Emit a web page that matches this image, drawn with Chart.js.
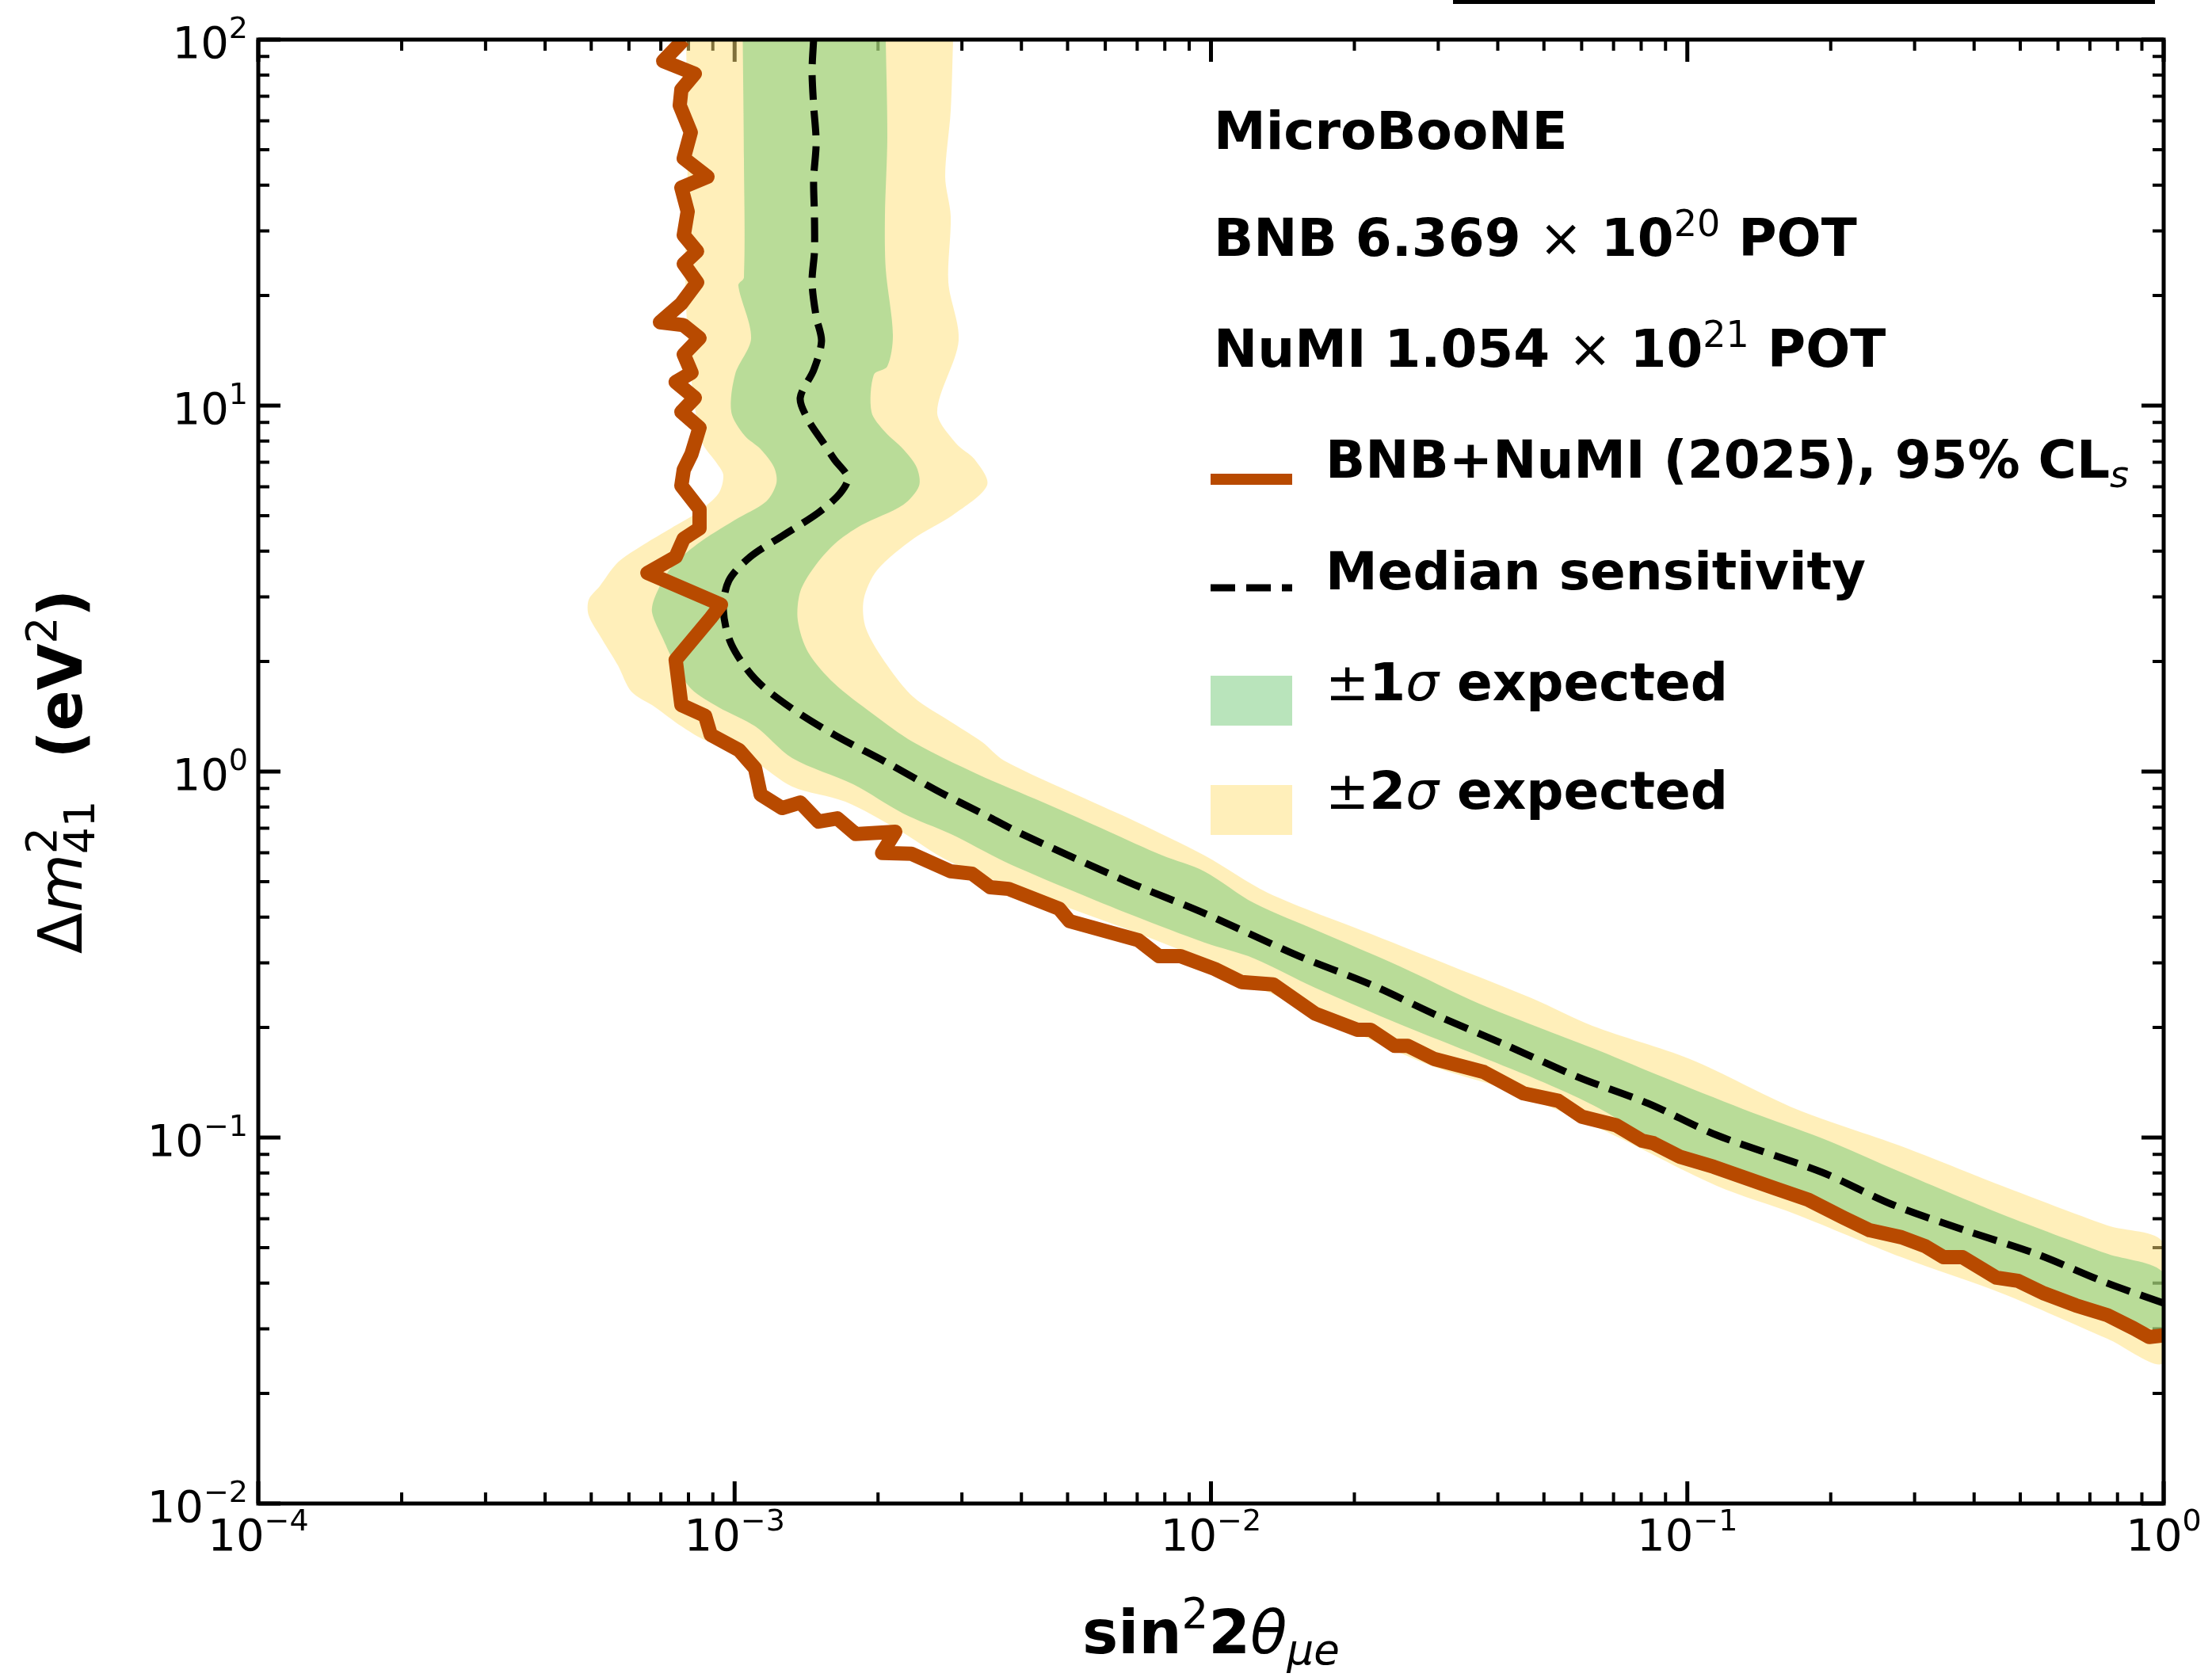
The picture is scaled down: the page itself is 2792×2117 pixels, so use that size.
<!DOCTYPE html>
<html>
<head>
<meta charset="utf-8">
<title>MicroBooNE BNB+NuMI sterile exclusion</title>
<script src="https://cdn.jsdelivr.net/npm/chart.js@4.4.1/dist/chart.umd.min.js"></script>
<style>
  html, body { margin: 0; padding: 0; background: #fff; }
  #wrap { width: 2792px; height: 2117px; }
</style>
</head>
<body>
<div id="wrap"><canvas id="chart" width="2792" height="2117"></canvas></div>
<script>
// === DATA, points are [sin^2 2theta, dm^2 in eV^2]
const xTickValues = [1e-4, 1e-3, 1e-2, 1e-1, 1];
const xTickLabels = [['10', '−4'], ['10', '−3'], ['10', '−2'], ['10', '−1'], ['10', '0']];
const yTickValues = [1e-2, 1e-1, 1, 10, 100];
const yTickLabels = [['10', '−2'], ['10', '−1'], ['10', '0'], ['10', '1'], ['10', '2']];

const observed = [
  [7.82e-4, 100], [7.08e-4, 87.4], [8.25e-4, 80.7], [7.73e-4, 73.0], [7.67e-4, 66.1], [8.09e-4, 55.8],
  [7.82e-4, 47.4], [8.77e-4, 42.2], [7.73e-4, 39.4], [7.97e-4, 33.9], [7.82e-4, 29.2], [8.34e-4, 26.4],
  [7.82e-4, 24.4], [8.34e-4, 21.7], [7.73e-4, 19.0], [6.97e-4, 16.9], [7.80e-4, 16.6], [8.44e-4, 15.3],
  [7.82e-4, 13.8], [8.12e-4, 12.3], [7.52e-4, 11.6], [8.25e-4, 10.5], [7.73e-4, 9.61], [8.44e-4, 8.70],
  [8.12e-4, 7.38], [7.82e-4, 6.68], [7.73e-4, 6.04], [8.44e-4, 5.21], [8.44e-4, 4.62], [7.82e-4, 4.33],
  [7.52e-4, 3.86], [6.56e-4, 3.49], [9.36e-4, 2.86], [8.91e-4, 2.63], [7.52e-4, 2.02], [7.73e-4, 1.52],
  [8.67e-4, 1.42], [8.91e-4, 1.26], [1.022e-3, 1.144], [1.104e-3, 1.02], [1.134e-3, 0.865], [1.258e-3, 0.795],
  [1.373e-3, 0.823], [1.50e-3, 0.730], [1.643e-3, 0.745], [1.795e-3, 0.675], [2.174e-3, 0.685], [2.04e-3, 0.599],
  [2.35e-3, 0.596], [2.84e-3, 0.534], [3.15e-3, 0.526], [3.44e-3, 0.483], [3.76e-3, 0.478], [4.80e-3, 0.422],
  [5.05e-3, 0.390], [7.04e-3, 0.346], [7.78e-3, 0.313], [8.63e-3, 0.313], [1.018e-2, 0.289], [1.159e-2, 0.266],
  [1.351e-2, 0.262], [1.655e-2, 0.218], [2.027e-2, 0.197], [2.163e-2, 0.197], [2.43e-2, 0.178], [2.59e-2, 0.178],
  [2.94e-2, 0.164], [3.74e-2, 0.151], [4.53e-2, 0.132], [5.36e-2, 0.126], [6.01e-2, 0.114], [7.09e-2, 0.108],
  [8.04e-2, 0.098], [8.49e-2, 0.0965], [9.63e-2, 0.0887], [0.1136, 0.0832], [0.1526, 0.0727], [0.1799, 0.0675],
  [0.2129, 0.0604], [0.2415, 0.0558], [0.2815, 0.0534], [0.3158, 0.0505], [0.345, 0.0471], [0.378, 0.0471],
  [0.4457, 0.0414], [0.4943, 0.0406], [0.561, 0.0375], [0.6535, 0.0348], [0.762, 0.0327], [0.865, 0.0301],
  [0.933, 0.0285], [1.0, 0.0288]
];

const median = [
  [1.465e-3, 100], [1.454e-3, 81.9], [1.465e-3, 66.1], [1.483e-3, 52.3], [1.465e-3, 41.4], [1.471e-3, 32.9],
  [1.471e-3, 26.4], [1.454e-3, 21.7], [1.483e-3, 17.5], [1.522e-3, 15.0], [1.465e-3, 12.5], [1.373e-3, 10.5],
  [1.427e-3, 9.14], [1.540e-3, 7.87], [1.619e-3, 7.13], [1.728e-3, 6.35], [1.663e-3, 5.75], [1.50e-3, 5.10],
  [1.258e-3, 4.40], [1.078e-3, 3.86], [9.72e-4, 3.32], [9.47e-4, 2.76], [9.84e-4, 2.23], [1.104e-3, 1.79],
  [1.306e-3, 1.50], [1.619e-3, 1.26], [2.092e-3, 1.056], [2.70e-3, 0.878], [3.31e-3, 0.768], [4.01e-3, 0.675],
  [6.68e-3, 0.500], [9.68e-3, 0.410], [1.532e-2, 0.313], [2.163e-2, 0.262], [3.02e-2, 0.214], [4.20e-2, 0.178],
  [5.92e-2, 0.146], [8.27e-2, 0.124], [0.1153, 0.1015], [0.192, 0.0803], [0.2678, 0.0658], [0.3824, 0.0558],
  [0.540, 0.0481], [0.762, 0.0400], [1.0, 0.0353]
];

// +-1 sigma band: left/lower edge and right/upper edge
const sigma1Lower = [
  [1.04e-3, 100], [1.046e-3, 47.3], [1.046e-3, 22.4], [1.018e-3, 21.3], [1.083e-3, 15.3], [1.003e-3, 12.2],
  [9.84e-4, 9.61], [1.05e-3, 8.27], [1.134e-3, 7.60], [1.21e-3, 6.78], [1.224e-3, 6.14], [1.165e-3, 5.47],
  [9.99e-4, 4.86], [8.34e-4, 4.18], [7.35e-4, 3.60], [6.81e-4, 3.01], [6.71e-4, 2.72], [7.08e-4, 2.30],
  [7.52e-4, 1.95], [8.12e-4, 1.68], [9.25e-4, 1.50], [1.104e-3, 1.33], [1.321e-3, 1.089], [1.774e-3, 0.923],
  [2.259e-3, 0.768], [2.842e-3, 0.675], [3.674e-3, 0.569], [5.048e-3, 0.476], [6.94e-3, 0.402], [9.68e-3, 0.341],
  [1.232e-2, 0.3085], [1.655e-2, 0.2565], [2.493e-2, 0.204], [3.656e-2, 0.1671], [5.024e-2, 0.141], [6.57e-2, 0.1197],
  [8.92e-2, 0.0947], [0.1308, 0.0776], [0.1919, 0.0658], [0.2815, 0.0539], [0.3639, 0.0481], [0.4578, 0.0426],
  [0.762, 0.0332], [1.0, 0.0301]
];
const sigma1Upper = [
  [2.076e-3, 100], [2.092e-3, 54.2], [2.068e-3, 32.9], [2.076e-3, 23.6], [2.149e-3, 15.6], [2.092e-3, 12.8],
  [1.96e-3, 12.15], [1.938e-3, 9.61], [2.068e-3, 8.48], [2.259e-3, 7.60], [2.411e-3, 6.78], [2.439e-3, 6.04],
  [2.259e-3, 5.36], [1.844e-3, 4.71], [1.619e-3, 4.18], [1.465e-3, 3.60], [1.373e-3, 3.10], [1.357e-3, 2.59],
  [1.426e-3, 2.12], [1.619e-3, 1.74], [1.938e-3, 1.446], [2.374e-3, 1.202], [3.226e-3, 0.985], [4.448e-3, 0.823],
  [6.114e-3, 0.685], [7.90e-3, 0.590], [9.68e-3, 0.534], [1.232e-2, 0.437], [1.70e-2, 0.364], [2.493e-2, 0.2935],
  [3.656e-2, 0.2322], [5.024e-2, 0.197], [6.57e-2, 0.1722], [8.92e-2, 0.146], [0.1308, 0.1197], [0.1919, 0.0995],
  [0.2815, 0.0803], [0.4578, 0.0617], [0.762, 0.0481], [1.0, 0.0426]
];

// +-2 sigma band
const sigma2Lower = [
  [7.91e-4, 100], [7.97e-4, 47.3], [7.88e-4, 22.4], [8.03e-4, 13.6], [8.28e-4, 9.61], [8.57e-4, 7.87],
  [9.18e-4, 6.95], [9.47e-4, 6.45], [9.25e-4, 5.75], [8.34e-4, 5.10], [7.35e-4, 4.62], [6.46e-4, 4.18],
  [5.69e-4, 3.73], [5.21e-4, 3.21], [4.94e-4, 2.95], [4.94e-4, 2.67], [5.27e-4, 2.30], [5.69e-4, 1.95],
  [6.07e-4, 1.654], [6.81e-4, 1.50], [7.73e-4, 1.33], [8.57e-4, 1.227], [1.104e-3, 1.062], [1.321e-3, 0.910],
  [1.708e-3, 0.827], [2.199e-3, 0.695], [2.842e-3, 0.566], [4.73e-3, 0.437], [6.94e-3, 0.3636], [9.68e-3, 0.3054],
  [1.315e-2, 0.2502], [2.829e-2, 0.159], [4.15e-2, 0.1355], [6.57e-2, 0.1056], [0.1153, 0.0738], [0.1691, 0.0617],
  [0.2815, 0.0471], [0.4578, 0.0375], [0.762, 0.0282], [1.0, 0.0243]
];
const sigma2Upper = [
  [2.875e-3, 100], [2.842e-3, 63.9], [2.767e-3, 42.2], [2.842e-3, 32.9], [2.81e-3, 21.7], [2.953e-3, 15.05],
  [2.662e-3, 9.61], [2.919e-3, 7.87], [3.189e-3, 7.13], [3.39e-3, 6.07], [2.875e-3, 5.03], [2.374e-3, 4.33],
  [1.991e-3, 3.55], [1.866e-3, 2.95], [1.887e-3, 2.46], [2.092e-3, 1.95], [2.374e-3, 1.597], [2.875e-3, 1.355],
  [3.313e-3, 1.202], [3.674e-3, 1.072], [5.39e-3, 0.848], [6.94e-3, 0.7305], [9.68e-3, 0.590], [1.315e-2, 0.4666],
  [2.188e-2, 0.3582], [3.21e-2, 0.2935], [4.71e-2, 0.2404], [6.32e-2, 0.2019], [0.1013, 0.1638], [0.1691, 0.1197],
  [0.2815, 0.0947], [0.4578, 0.0738], [0.762, 0.0575], [1.0, 0.0513]
];

// === STYLE
const FONT = '"DejaVu Sans"';
const RED = '#B84A00';
const GREEN = 'rgba(115,201,119,0.5)';
const YELLOW = 'rgba(255,223,117,0.5)';

const qs = sel => document.querySelector(sel);
const toPts = arr => arr.map(([x, y]) => ({ x, y }));
// closed polygon: lower edge out, upper edge back
const bandShape = (lo, hi) => toPts(lo.concat(hi.slice().reverse()));

// draw a run of text pieces with different fonts / offsets (super & subscripts)
function drawRich(ctx, parts, x, y, align) {
  let w = 0;
  parts.forEach(p => { ctx.font = p.f; if (p.adv !== false) w += ctx.measureText(p.t).width; });
  let cx = x;
  if (align === 'center') cx = x - w / 2;
  else if (align === 'right') cx = x - w;
  parts.forEach(p => {
    ctx.font = p.f;
    ctx.fillText(p.t, cx, y + (p.dy || 0));
    if (p.adv !== false) cx += ctx.measureText(p.t).width;
  });
}

// every 1..9 x 10^e value inside [lo, hi]
function logTickValues(lo, hi) {
  const out = [];
  for (let e = Math.round(Math.log10(lo)); e < Math.round(Math.log10(hi)); e++) {
    for (let m = 1; m <= 9; m++) out.push({ v: m * Math.pow(10, e), major: m === 1 });
  }
  out.push({ v: hi, major: true });
  return out;
}

const tickParts = ([base, exp]) => [
  { t: base, f: `56px ${FONT}` },
  { t: exp, f: `38px ${FONT}`, dy: -25 }
];

// ====== inward ticks, tick labels, frame, legend and titles
const decor = {
  id: 'decor',
  beforeDatasetsDraw(chart) {
    const { ctx, chartArea: a, scales: { x, y } } = chart;
    ctx.save();
    ctx.strokeStyle = '#000';
    logTickValues(x.min, x.max).forEach(t => {
      const px = x.getPixelForValue(t.v);
      const len = t.major ? 28 : 14;
      ctx.lineWidth = t.major ? 5 : 4;
      ctx.beginPath();
      ctx.moveTo(px, a.bottom); ctx.lineTo(px, a.bottom - len);
      ctx.moveTo(px, a.top); ctx.lineTo(px, a.top + len);
      ctx.stroke();
    });
    logTickValues(y.min, y.max).forEach(t => {
      const py = y.getPixelForValue(t.v);
      const len = t.major ? 28 : 14;
      ctx.lineWidth = t.major ? 5 : 4;
      ctx.beginPath();
      ctx.moveTo(a.left, py); ctx.lineTo(a.left + len, py);
      ctx.moveTo(a.right, py); ctx.lineTo(a.right - len, py);
      ctx.stroke();
    });
    ctx.restore();
  },
  afterDatasetsDraw(chart) {
    const { ctx, chartArea: a } = chart;
    ctx.save();
    ctx.strokeStyle = '#000';
    ctx.lineWidth = 5;
    ctx.strokeRect(a.left, a.top, a.right - a.left, a.bottom - a.top);
    ctx.restore();
  },
  afterDraw(chart) {
    const { ctx, chartArea: a, scales: { x, y } } = chart;
    const B = `bold 66px ${FONT}`, N = `66px ${FONT}`, S = `46px ${FONT}`;
    const I = `italic 66px ${FONT}`, SI = `italic 46px ${FONT}`;
    ctx.save();
    ctx.fillStyle = '#000';
    ctx.textBaseline = 'alphabetic';

    // tick labels (mathtext style 10^n), placed through the scales
    xTickValues.forEach((v, i) => drawRich(ctx, tickParts(xTickLabels[i]), x.getPixelForValue(v), a.bottom + 59, 'center'));
    yTickValues.forEach((v, i) => drawRich(ctx, tickParts(yTickLabels[i]), a.left - 13, y.getPixelForValue(v) + 23, 'right'));

    // cut-off fragment along the very top edge of the figure
    ctx.fillRect(1834, 0, 886, 5);

    // header text
    const tx = a.left + 1206;
    drawRich(ctx, [{ t: 'MicroBooNE', f: B }], tx, a.top + 138);
    drawRich(ctx, [{ t: 'BNB 6.369 ', f: B }, { t: '×', f: N }, { t: ' 10', f: B },
      { t: '20', f: S, dy: -25 }, { t: ' POT', f: B }], tx, a.top + 273);
    drawRich(ctx, [{ t: 'NuMI 1.054 ', f: B }, { t: '×', f: N }, { t: ' 10', f: B },
      { t: '21', f: S, dy: -25 }, { t: ' POT', f: B }], tx, a.top + 413);

    // legend handles
    const hx = a.left + 1202, hw = 103, lx = a.left + 1347;
    ctx.lineCap = 'butt';
    ctx.strokeStyle = RED; ctx.lineWidth = 14;
    ctx.beginPath(); ctx.moveTo(hx, a.top + 555); ctx.lineTo(hx + hw, a.top + 555); ctx.stroke();
    ctx.strokeStyle = '#000'; ctx.lineWidth = 9; ctx.setLineDash([31, 14]);
    ctx.beginPath(); ctx.moveTo(hx, a.top + 692); ctx.lineTo(hx + hw, a.top + 692); ctx.stroke();
    ctx.setLineDash([]);
    ctx.fillStyle = GREEN; ctx.fillRect(hx, a.top + 803, hw, 63);
    ctx.fillStyle = YELLOW; ctx.fillRect(hx, a.top + 941, hw, 63);

    ctx.fillStyle = '#000';
    drawRich(ctx, [{ t: 'BNB+NuMI (2025), 95% CL', f: B }, { t: 's', f: SI, dy: 12 }], lx, a.top + 553);
    drawRich(ctx, [{ t: 'Median sensitivity', f: B }], lx, a.top + 694);
    drawRich(ctx, [{ t: '±', f: N }, { t: '1', f: B }, { t: 'σ', f: I }, { t: ' expected', f: B }], lx, a.top + 834);
    drawRich(ctx, [{ t: '±', f: N }, { t: '2', f: B }, { t: 'σ', f: I }, { t: ' expected', f: B }], lx, a.top + 971);

    // axis titles
    const TB = `bold 76px ${FONT}`, TN = `76px ${FONT}`, TI = `italic 76px ${FONT}`;
    const TS = `53px ${FONT}`, TSI = `italic 53px ${FONT}`;
    drawRich(ctx, [{ t: 'sin', f: TB }, { t: '2', f: TS, dy: -32 }, { t: '2', f: TB },
      { t: 'θ', f: TI }, { t: 'μe', f: TSI, dy: 14 }], (a.left + a.right) / 2, 2087, 'center');

    ctx.translate(103, (a.top + a.bottom) / 2);
    ctx.rotate(-Math.PI / 2);
    drawRich(ctx, [{ t: 'Δ', f: TN }, { t: 'm', f: TI }, { t: '2', f: TS, dy: -32, adv: false },
      { t: '41', f: TS, dy: 16 }, { t: '  (eV', f: TB }, { t: '2', f: TS, dy: -32 }, { t: ')', f: TB }], 0, 0, 'center');
    ctx.restore();
  }
};

// ====== CHART
function createChart() {
  const ctx = qs('#chart').getContext('2d');
  const lineBase = { pointRadius: 0, pointHoverRadius: 0, clip: 0 };
  new Chart(ctx, {
    type: 'line',
    data: {
      datasets: [
        { ...lineBase, label: 'BNB+NuMI (2025), 95% CLs', data: toPts(observed), borderColor: RED,
          borderWidth: 18, tension: 0, borderJoinStyle: 'round', fill: false, order: 0 },
        { ...lineBase, label: 'Median sensitivity', data: toPts(median), borderColor: '#000', tension: 0.3,
          borderWidth: 9, borderDash: [31, 14], borderCapStyle: 'butt', borderJoinStyle: 'round', fill: false, order: 1 },
        { ...lineBase, label: '±1σ expected', data: bandShape(sigma1Lower, sigma1Upper), borderColor: 'transparent',
          tension: 0.3, borderWidth: 0, backgroundColor: GREEN, fill: 'shape', order: 2 },
        { ...lineBase, label: '±2σ expected', data: bandShape(sigma2Lower, sigma2Upper), borderColor: 'transparent',
          tension: 0.3, borderWidth: 0, backgroundColor: YELLOW, fill: 'shape', order: 3 }
      ]
    },
    options: {
      responsive: false,
      animation: false,
      devicePixelRatio: 1,
      layout: { padding: { top: 50, right: 61, left: 0, bottom: 0 } },
      plugins: { legend: { display: false }, tooltip: { enabled: false } },
      scales: {
        x: {
          type: 'logarithmic', min: 1e-4, max: 1,
          afterBuildTicks: s => { s.ticks = xTickValues.map(v => ({ value: v, major: true })); },
          afterFit: s => { s.height = 219; },
          grid: { display: false, drawTicks: false }, border: { display: false },
          ticks: { display: false }
        },
        y: {
          type: 'logarithmic', min: 1e-2, max: 100,
          afterBuildTicks: s => { s.ticks = yTickValues.map(v => ({ value: v, major: true })); },
          afterFit: s => { s.width = 326; },
          grid: { display: false, drawTicks: false }, border: { display: false },
          ticks: { display: false }
        }
      }
    },
    plugins: [decor]
  });
}

window.addEventListener('DOMContentLoaded', createChart);
</script>
</body>
</html>
